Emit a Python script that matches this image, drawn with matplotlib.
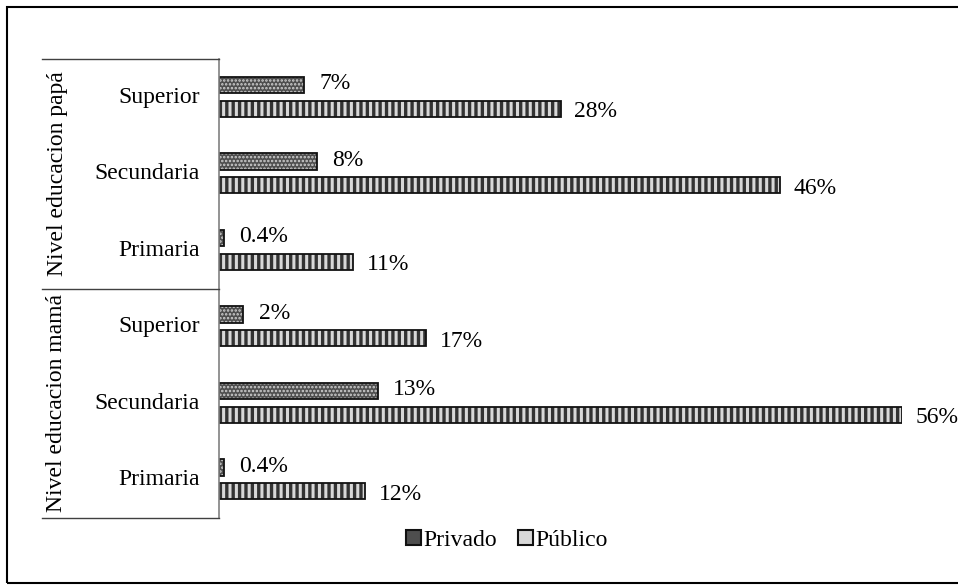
import numpy as np
import matplotlib
matplotlib.use('Agg')
import matplotlib.pyplot as plt
from matplotlib.patches import Rectangle, Patch
from matplotlib.lines import Line2D
from matplotlib.legend_handler import HandlerTuple

# datos
grupos = ['Nivel educacion papá', 'Nivel educacion mamá']
categorias = ['Superior', 'Secundaria', 'Primaria', 'Superior', 'Secundaria', 'Primaria']
privado = [7, 8, 0.4, 2, 13, 0.4]
publico = [28, 46, 11, 17, 56, 12]
etiq_privado = ['7%', '8%', '0.4%', '2%', '13%', '0.4%']
etiq_publico = ['28%', '46%', '11%', '17%', '56%', '12%']
series = ['Privado', 'Público']

# dpi mayor para que el rayado tenga el paso del original
DPI = 115
k = 100 / DPI  # factor para tamaños en puntos

plt.rcParams['font.family'] = ['Liberation Serif', 'DejaVu Serif']
plt.rcParams['hatch.linewidth'] = 2.4 * k
fs = 17 * k

W, H = 958, 585
fig = plt.figure(figsize=(W / DPI, H / DPI), dpi=DPI)

x0, x1 = 219, 902
ytop, ybot = 59, 518
ax = fig.add_axes([x0 / W, 1 - ybot / H, (x1 - x0) / W, (ybot - ytop) / H])

y = np.arange(len(categorias))
h = 0.21

# estilo de barras
est_priv = dict(color='#4e4e4e', edgecolor='#d0d0d0', hatch='.....', linewidth=0)
est_pub = dict(color='#d8d8d8', edgecolor='#333333', hatch='|||', linewidth=0)


def hatch_lw(barras, lw):
    for b in barras:
        if hasattr(b, 'set_hatch_linewidth'):
            b.set_hatch_linewidth(lw)


b1 = ax.barh(y - 0.16, privado, height=h, **est_priv)
hatch_lw(b1, 1.2 * k)
ax.barh(y - 0.16, privado, height=h, fill=False, edgecolor='#111111', linewidth=1.3 * k)
b2 = ax.barh(y + 0.15, publico, height=h, **est_pub)
hatch_lw(b2, 2.4 * k)
ax.barh(y + 0.15, publico, height=h, fill=False, edgecolor='#111111', linewidth=1.3 * k)

for i in range(len(categorias)):
    ax.annotate(etiq_privado[i], (privado[i], y[i] - 0.16), xytext=(11 * k, 1 * k),
                textcoords='offset points', va='center', ha='left', fontsize=fs,
                annotation_clip=False)
    ax.annotate(etiq_publico[i], (publico[i], y[i] + 0.15), xytext=(10 * k, -2 * k),
                textcoords='offset points', va='center', ha='left', fontsize=fs,
                annotation_clip=False)

ax.set_xlim(0, 56)
ax.set_ylim(len(categorias) - 0.5, -0.5)
for s in ax.spines.values():
    s.set_visible(False)
ax.set_xticks([])
ax.set_yticks([])

# tabla de etiquetas a la izquierda
lc = '#404040'
fig.add_artist(Line2D([x0 / W, x0 / W], [1 - ytop / H, 1 - ybot / H], color='#808080', lw=1.2 * k))
ymid = (ytop + ybot) / 2
for yy in [ytop, ymid, ybot]:
    fig.add_artist(Line2D([42 / W, x0 / W], [1 - yy / H, 1 - yy / H], color=lc, lw=1.0 * k))

paso = (ybot - ytop) / len(categorias)
for i, c in enumerate(categorias):
    yc = ytop + paso * (i + 0.5)
    fig.text(200 / W, 1 - yc / H, c, ha='right', va='center', fontsize=fs)

for j, g in enumerate(grupos):
    yc = ytop + paso * (3 * j + 1.5)
    fig.text(57 / W, 1 - yc / H, g, ha='center', va='center', rotation=90, fontsize=fs)

# leyenda: relleno rayado + contorno negro superpuestos
borde = dict(fill=False, edgecolor='#111111', linewidth=1.5 * k)
handles = [(Patch(**est_priv), Patch(**borde)),
           (Patch(**est_pub), Patch(**borde))]
fig.legend(handles, series, loc='center', bbox_to_anchor=(507 / W, 1 - 540 / H),
           ncol=2, frameon=False, fontsize=fs, handlelength=0.62, handleheight=0.62,
           handletextpad=0.12, columnspacing=0.9,
           handler_map={tuple: HandlerTuple(ndivide=1, pad=0)})

# borde exterior (sin lado derecho, cortado en el original)
fig.add_artist(Rectangle((7 / W, 2 / H), 960 / W, 576 / H, fill=False,
                         edgecolor='black', linewidth=1.5 * k, transform=fig.transFigure))

fig.savefig('out.png', dpi=DPI)
